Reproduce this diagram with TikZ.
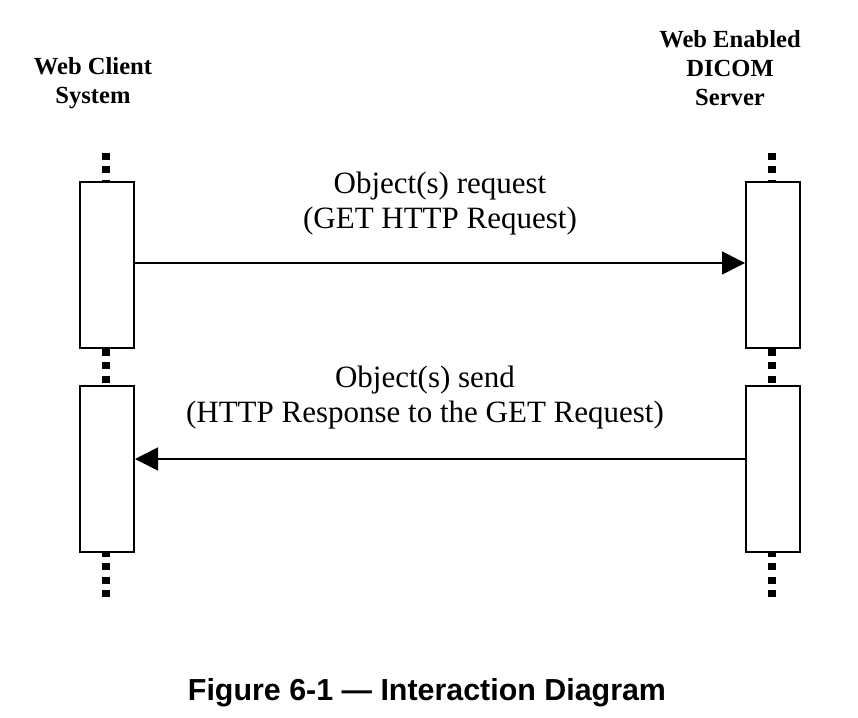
\documentclass[tikz,border=0pt]{standalone}
\usepackage{fontspec}
\setmainfont{Liberation Serif}
\setsansfont{Liberation Sans}
\usetikzlibrary{arrows.meta}
\begin{document}
\begin{tikzpicture}[x=1pt,y=-1pt,
  actbox/.style={draw,line width=2pt,fill=white,minimum width=54pt,minimum height=166pt,inner sep=0pt,anchor=north west},
  life/.style={line width=8pt,dash pattern=on 7pt off 6.5pt},
  msg/.style={line width=1.6pt,-{Triangle[length=23pt,width=23pt]}},
  lbl/.style={font=\fontsize{31}{35}\selectfont,align=center},
  hdr/.style={font=\fontsize{24.6}{29}\selectfont\bfseries,align=center},
  figcap/.style={font=\sffamily\bfseries\fontsize{30.4}{32}\selectfont}]
\useasboundingbox (0,0) rectangle (858,717);
% lifelines
\foreach \x/\s in {106/l,772/r}{
  \coordinate (\s t1) at (\x,152.5);
  \coordinate (\s t2) at (\x,181);
  \coordinate (\s m1) at (\x,348.5);
  \coordinate (\s m2) at (\x,385);
  \coordinate (\s b1) at (\x,549.5);
  \coordinate (\s b2) at (\x,597);
  \draw[life] (\s t1) -- (\s t2);
  \draw[life] (\s m1) -- (\s m2);
  \draw[life] (\s b1) -- (\s b2);
}
% activation boxes
\node[actbox] (l1) at (79,181) {};
\node[actbox] (l2) at (79,385) {};
\node[actbox] (r1) at (745,181) {};
\node[actbox] (r2) at (745,385) {};
% headers
\node[hdr] (hl) at (93,83) {Web Client\\System};
\node[hdr] (hr) at (730,68) {Web Enabled\\DICOM\\Server};
% messages
\coordinate (a1s) at (l1.east |- 0,263);
\coordinate (a1e) at (r1.west |- 0,263);
\draw[msg] (a1s) -- (a1e);
\coordinate (a2s) at (r2.west |- 0,459);
\coordinate (a2e) at (l2.east |- 0,459);
\draw[msg] (a2s) -- (a2e);
\node[lbl] (m1) at (440,204) {Object(s) request\\(GET HTTP Request)};
\node[lbl] (m2) at (425,398) {Object(s) send\\(HTTP Response to the GET Request)};
% caption
\node[figcap] (c) at (427,693) {Figure 6-1 — Interaction Diagram};
\end{tikzpicture}
\end{document}
